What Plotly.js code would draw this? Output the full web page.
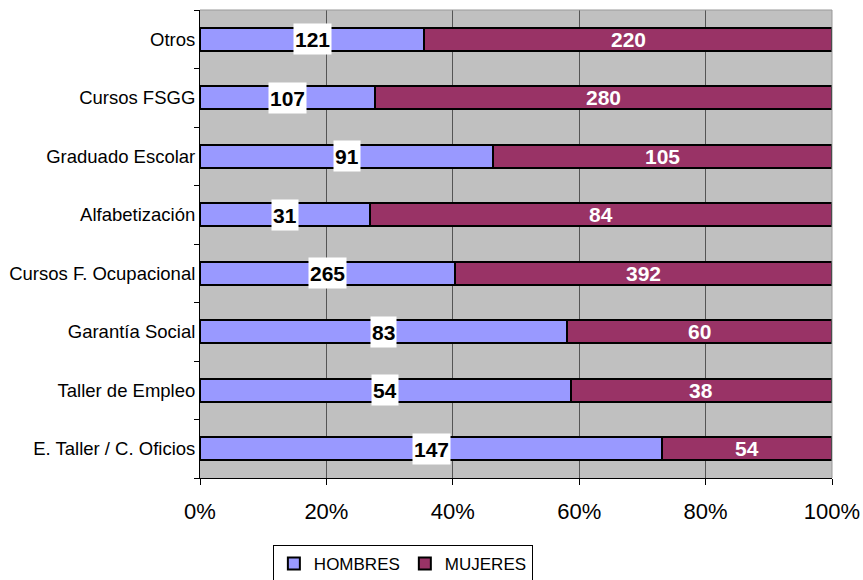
<!DOCTYPE html>
<html>
<head>
<meta charset="utf-8">
<script src="https://cdn.plot.ly/plotly-3.0.1.min.js"></script>
<style>html,body{margin:0;padding:0;background:#fff;}#chart{width:863px;height:580px;}</style>
</head>
<body>
<div id="chart"></div>
<script>
// Categories listed bottom to top
const categories = ["E. Taller / C. Oficios", "Taller de Empleo", "Garantía Social", "Cursos F. Ocupacional", "Alfabetización", "Graduado Escolar", "Cursos FSGG", "Otros"];
const hombres = [147, 54, 83, 265, 31, 91, 107, 121];
const mujeres = [54, 38, 60, 392, 84, 105, 280, 220];
const xTickVals = [0, 20, 40, 60, 80, 100];
const xTickText = ["0%", "20%", "40%", "60%", "80%", "100%"];

const FONT = "Arial, 'Liberation Sans', sans-serif";

const traces = [
  {
    type: "bar", orientation: "h", name: "HOMBRES",
    y: categories, x: hombres,
    marker: {color: "#9999FF", line: {color: "#000000", width: 2}},
    hoverinfo: "none"
  },
  {
    type: "bar", orientation: "h", name: "MUJERES",
    y: categories, x: mujeres,
    marker: {color: "#993366", line: {color: "#000000", width: 2}},
    hoverinfo: "none"
  }
];

const annotations = [];
categories.forEach((c, i) => {
  const tot = hombres[i] + mujeres[i];
  const hp = 100 * hombres[i] / tot;
  annotations.push({
    x: hp / 2, y: c, xref: "x", yref: "y", text: String(hombres[i]),
    showarrow: false, bgcolor: "#FFFFFF", borderpad: 1, height: 28,
    font: {family: FONT, size: 21, color: "#000000", weight: "bold"}
  });
  annotations.push({
    x: hp + (100 - hp) / 2, y: c, xref: "x", yref: "y", text: String(mujeres[i]),
    showarrow: false,
    font: {family: FONT, size: 21, color: "#FFFFFF", weight: "bold"}
  });
});

const layout = {
  width: 863, height: 580,
  margin: {l: 200, r: 31, t: 10, b: 102, autoexpand: false},
  paper_bgcolor: "#FFFFFF",
  plot_bgcolor: "#C0C0C0",
  barmode: "stack",
  barnorm: "percent",
  bargap: 0.6,
  font: {family: FONT, color: "#000000"},
  xaxis: {
    range: [0, 100], tickvals: xTickVals, ticktext: xTickText,
    showgrid: true, gridcolor: "#555555", gridwidth: 1,
    ticks: "outside", ticklen: 6, tickcolor: "#000000",
    showline: true, linecolor: "#000000", linewidth: 1,
    tickfont: {family: FONT, size: 22, color: "#000000"},
    ticklabelstandoff: 8, zeroline: false, fixedrange: true, automargin: false
  },
  yaxis: {
    type: "category", tickson: "boundaries",
    ticks: "outside", ticklen: 5, tickcolor: "#000000",
    showline: true, linecolor: "#000000", linewidth: 1,
    showgrid: false, zeroline: false,
    tickfont: {family: FONT, size: 18.5, color: "#000000"},
    fixedrange: true, automargin: false
  },
  shapes: [
    {type: "line", xref: "paper", yref: "paper", x0: 0, x1: 1, y0: 1, y1: 1, line: {color: "#999999", width: 1}},
    {type: "line", xref: "paper", yref: "paper", x0: 1, x1: 1, y0: 0, y1: 1, line: {color: "#999999", width: 1}}
  ],
  annotations: annotations,
  showlegend: true,
  legend: {
    orientation: "h", x: 0.321, xanchor: "center", y: -0.143, yanchor: "top",
    bordercolor: "#000000", borderwidth: 1, bgcolor: "#FFFFFF",
    font: {family: FONT, size: 17, color: "#000000"},
    itemwidth: 30, traceorder: "normal", tracegroupgap: 0
  }
};

Plotly.newPlot("chart", traces, layout, {displayModeBar: false, staticPlot: true});
</script>
</body>
</html>
